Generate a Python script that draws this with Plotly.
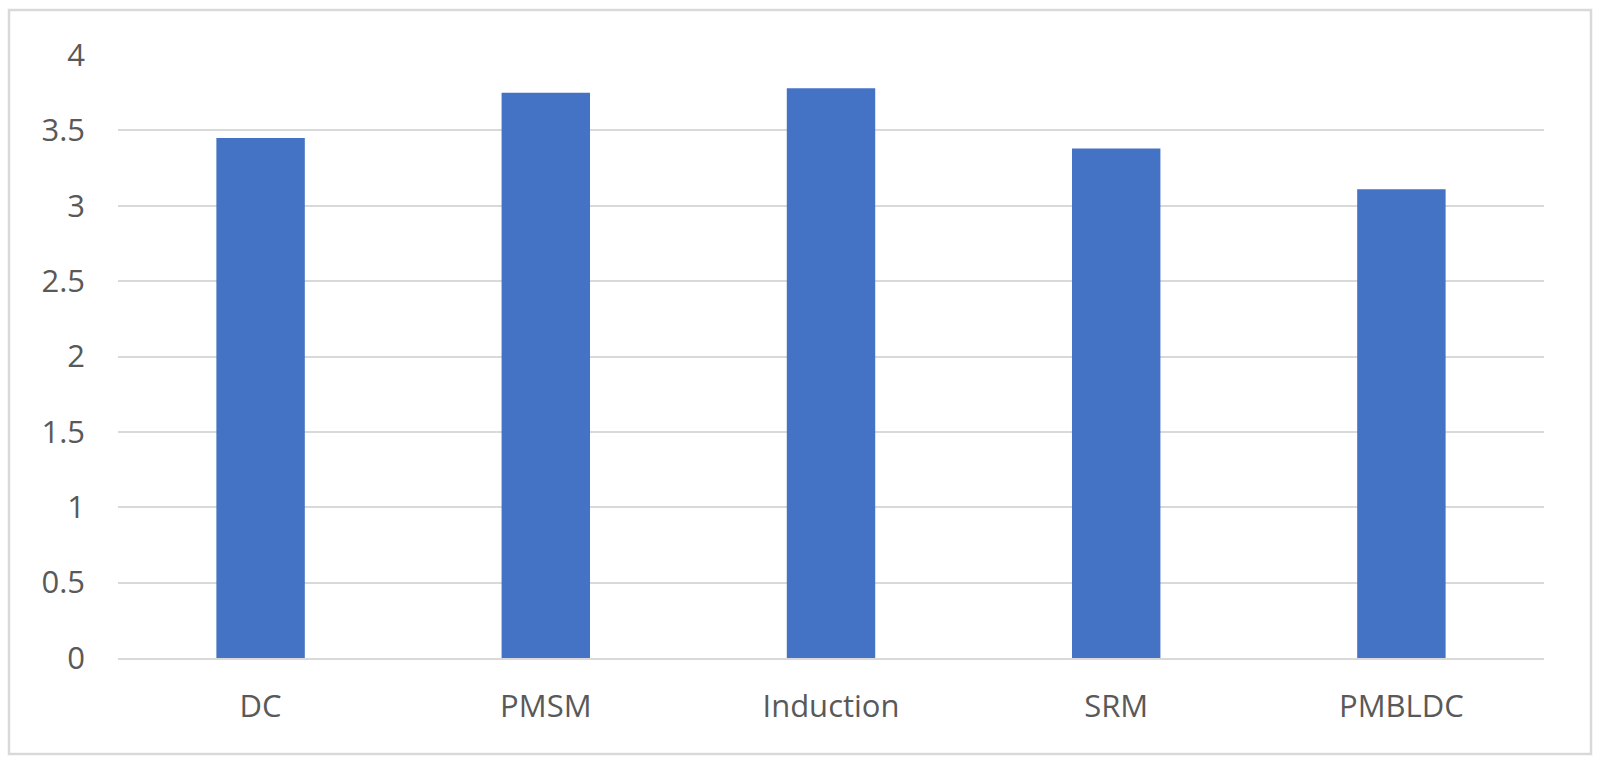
import plotly.graph_objects as go

categories = ["DC", "PMSM", "Induction", "SRM", "PMBLDC"]
values = [3.45, 3.75, 3.78, 3.38, 3.11]
y_ticks = [0, 0.5, 1, 1.5, 2, 2.5, 3, 3.5, 4]
y_tick_labels = ["0", "0.5", "1", "1.5", "2", "2.5", "3", "3.5", "4"]

W, H = 1600, 764
L, R, T, B = 118, 56, 55, 106
pw, ph = W - L - R, H - T - B

fig = go.Figure(go.Bar(x=categories, y=values, marker=dict(color="#4472C4", line=dict(width=0))))

font = dict(family="Open Sans, sans-serif", size=31, color="#595959")

fig.update_layout(
    width=W, height=H,
    margin=dict(l=L, r=R, t=T, b=B, autoexpand=False),
    paper_bgcolor="white", plot_bgcolor="white",
    bargap=0.69,
    showlegend=False,
    font=font,
    xaxis=dict(showgrid=False, showline=True, linecolor="#d9d9d9", linewidth=2,
               ticks="", tickfont=font, ticklabelstandoff=20),
    yaxis=dict(range=[0, 4], tickvals=y_ticks, ticktext=y_tick_labels,
               showgrid=True, gridcolor="#d9d9d9", gridwidth=2,
               zeroline=False, showline=False, ticks="",
               tickfont=font, ticklabelstandoff=32),
)

# outer chart border
x0, x1, y0, y1 = 9, 1591, 10, 754
fig.add_shape(type="rect", xref="paper", yref="paper",
              x0=(x0 - L) / pw, x1=(x1 - L) / pw,
              y0=(H - B - y1) / ph, y1=(H - B - y0) / ph,
              line=dict(color="#d9d9d9", width=2.5), fillcolor="rgba(0,0,0,0)", layer="below")

fig.write_html("out.html", config={"displayModeBar": False},
               post_script="document.body.style.margin='0';")
